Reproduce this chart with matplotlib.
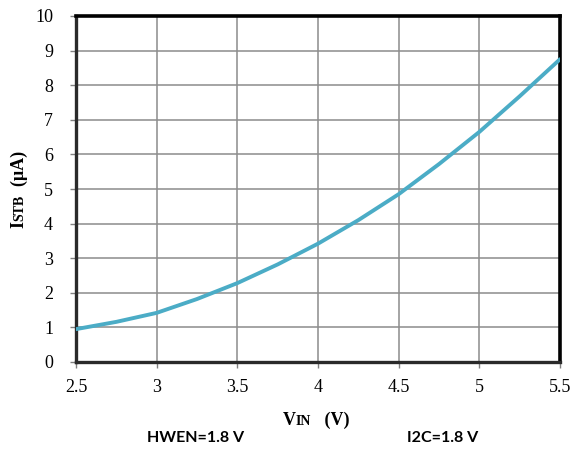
import matplotlib
matplotlib.use("Agg")
import matplotlib.pyplot as plt

# Data
vin = [2.5, 2.75, 3.0, 3.25, 3.5, 3.75, 4.0, 4.25, 4.5, 4.75, 5.0, 5.25, 5.5]
istb = [0.95, 1.16, 1.42, 1.82, 2.28, 2.82, 3.42, 4.10, 4.85, 5.72, 6.65, 7.68, 8.75]
xticks = [2.5, 3.0, 3.5, 4.0, 4.5, 5.0, 5.5]
xticklabels = ["2.5", "3", "3.5", "4", "4.5", "5", "5.5"]
yticks = list(range(0, 11))

W, H = 573, 450
SERIF = ["Liberation Serif", "DejaVu Serif"]
SANS = ["Lato", "DejaVu Sans"]

fig = plt.figure(figsize=(W / 100, H / 100), dpi=100)
ax = fig.add_axes([76 / W, 88 / H, 484 / W, 346 / H])

ax.plot(vin, istb, color="#4BACC6", lw=2.8, solid_capstyle="round",
        solid_joinstyle="round", zorder=3)

ax.set_xlim(2.5, 5.5)
ax.set_ylim(0, 10)
ax.set_xticks(xticks)
ax.set_xticklabels(xticklabels)
ax.set_yticks(yticks)
ax.grid(True, color="#8c8c8c", lw=1.1)
ax.set_axisbelow(True)
for lab in ax.get_xticklabels() + ax.get_yticklabels():
    lab.set_family(SERIF)
    lab.set_fontsize(13)
ax.tick_params(axis="both", direction="out", length=4.5, width=1.0, color="#808080")
ax.tick_params(axis="y", pad=12)
ax.tick_params(axis="x", pad=8)

for s in ["top", "right"]:
    ax.spines[s].set_color("black")
    ax.spines[s].set_linewidth(2.6)
for s in ["left", "bottom"]:
    ax.spines[s].set_color("#2a2a2a")
    ax.spines[s].set_linewidth(2.4)

fig.canvas.draw()
renderer = fig.canvas.get_renderer()


def compose(pieces, x0, y0, rotation):
    """pieces: list of (text, size). x0,y0: baseline start in pixels (display coords)."""
    pos = 0.0
    for txt, size in pieces:
        t = fig.text(0, 0, txt, fontsize=size, fontweight="bold", family=SERIF,
                     ha="left", va="baseline", rotation=0, transform=None)
        w = t.get_window_extent(renderer).width
        if rotation == 90:
            t.set_position((x0, y0 + pos))
            t.set_rotation(90)
            t.set_rotation_mode("anchor")
        else:
            t.set_position((x0 + pos, y0))
        pos += w


# y label: "I" + small caps "STB" + "  (μA)"
compose([("I", 13), ("STB", 10), ("  (\u03bcA)", 13)], 23.5, H - 228, 90)
# x label: "V" + small caps "IN" + "   (V)"
compose([("V", 13), ("IN", 10), ("   (V)", 13)], 283, H - 425, 0)

fig.text(196 / W, 1 - 438 / H, "HWEN=1.8 V", family=SANS, fontweight="bold",
         fontsize=11.5, ha="center", va="center")
fig.text(443 / W, 1 - 438 / H, "I2C=1.8 V", family=SANS, fontweight="bold",
         fontsize=11.5, ha="center", va="center")

fig.savefig("out.png", dpi=100)
